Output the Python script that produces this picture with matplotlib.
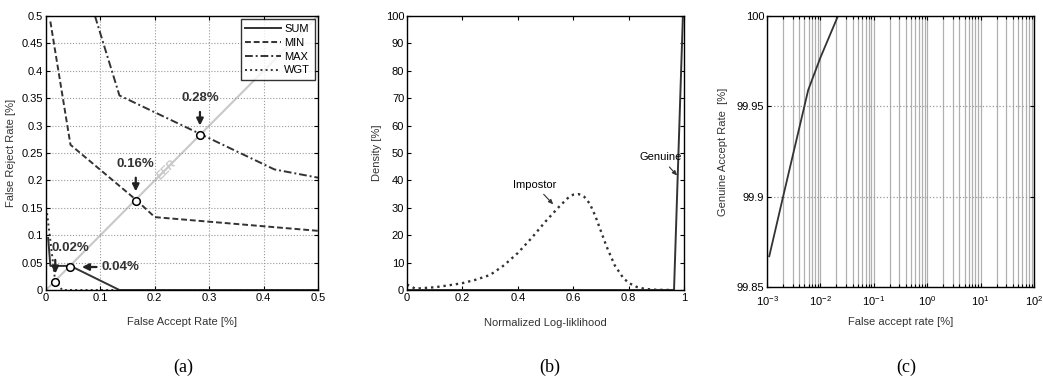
import numpy as np
import matplotlib
matplotlib.use("Agg")
import matplotlib.pyplot as plt
from matplotlib.ticker import FixedLocator, FormatStrFormatter, LogLocator, NullFormatter

plt.rcParams['font.family'] = ['Liberation Sans', 'DejaVu Sans']
plt.rcParams['font.size'] = 8

# (a) DET curves of the fusion rules, values in %
sum_far = [0.004, 0.008, 0.045, 0.135, 0.5]
sum_frr = [0.095, 0.044, 0.044, 0.0, 0.0]
min_far = [0.008, 0.045, 0.165, 0.2, 0.5]
min_frr = [0.49, 0.265, 0.165, 0.133, 0.108]
max_far = [0.09, 0.135, 0.283, 0.42, 0.5]
max_frr = [0.50, 0.355, 0.285, 0.22, 0.205]
wgt_far = [0.002, 0.017, 0.03, 0.5]
wgt_frr = [0.14, 0.015, 0.0, 0.0]
eer_x = [0.017, 0.044, 0.165, 0.283]
eer_y = [0.015, 0.042, 0.163, 0.283]
eer_labels = ['0.02%', '0.04%', '0.16%', '0.28%']

# (b) score densities
imp_x = [0, 0.03, 0.1, 0.15, 0.2, 0.25, 0.3, 0.35, 0.4, 0.45, 0.5, 0.55, 0.58, 0.6,
         0.62, 0.64, 0.66, 0.68, 0.7, 0.72, 0.75, 0.78, 0.8, 0.83, 0.85, 0.88, 0.9, 0.96]
imp_y = [2, 0.5, 1, 1.7, 2.5, 3.8, 5.5, 9, 13.5, 19, 25, 30.5, 33.5, 34.8,
         35, 34, 31.5, 27, 21.5, 16, 9, 4.5, 2.6, 1.1, 0.6, 0.2, 0.1, 0]
gen_x = [0, 0.964, 0.996]
gen_y = [0, 0, 100]

# (c) ROC of the fused system
roc_far = [0.0011, 0.002, 0.0059, 0.01, 0.0213, 100]
roc_gar = [99.867, 99.9, 99.959, 99.977, 100, 100]

line_c = '#333333'
fig = plt.figure(figsize=(10.43, 3.82), dpi=100)


def matlab_axes(ax):
    ax.tick_params(direction='in', top=True, right=True, length=3, width=0.8, pad=2,
                   which='both')
    for s in ax.spines.values():
        s.set_linewidth(1.0)


# ---------- (a)
ax = fig.add_axes([0.0441, 0.2408, 0.2608, 0.7173])
ax.plot([0, 0.5], [0, 0.5], color='#c8c8c8', lw=1.5, zorder=1)
ax.text(0.222, 0.219, 'EER', color='#c8c8c8', fontsize=8, fontweight='bold',
        fontstyle='italic', rotation=45, ha='center', va='center')
ax.plot(sum_far, sum_frr, '-', color=line_c, lw=1.4, label='SUM')
ax.plot(min_far, min_frr, '--', color=line_c, lw=1.4, label='MIN', dashes=(3, 1.5))
ax.plot(max_far, max_frr, '-.', color=line_c, lw=1.4, label='MAX', dashes=(4, 1.5, 1, 1.5))
ax.plot(wgt_far, wgt_frr, ':', color=line_c, lw=1.4, label='WGT')
ax.plot(eer_x, eer_y, 'o', ms=5.5, mfc='white', mec='black', mew=1.1, zorder=5)
arrow = dict(arrowstyle='-|>,head_width=0.25,head_length=0.5', color='#222222', lw=1.6)
fs = 9.5
ax.annotate('', xy=(eer_x[0], eer_y[0] + 0.01), xytext=(eer_x[0], 0.06), arrowprops=arrow)
ax.text(0.045, 0.077, eer_labels[0], fontsize=fs, fontweight='bold', color='#333333',
        ha='center', va='center')
ax.annotate('', xy=(eer_x[1] + 0.017, eer_y[1]), xytext=(0.098, eer_y[1]), arrowprops=arrow)
ax.text(0.102, eer_y[1], eer_labels[1], fontsize=fs, fontweight='bold', color='#333333',
        ha='left', va='center')
ax.annotate('', xy=(eer_x[2], eer_y[2] + 0.012), xytext=(eer_x[2], 0.21), arrowprops=arrow)
ax.text(eer_x[2], 0.23, eer_labels[2], fontsize=fs, fontweight='bold', color='#333333',
        ha='center', va='center')
ax.annotate('', xy=(eer_x[3], eer_y[3] + 0.012), xytext=(eer_x[3], 0.33), arrowprops=arrow)
ax.text(eer_x[3], 0.35, eer_labels[3], fontsize=fs, fontweight='bold', color='#333333',
        ha='center', va='center')
ax.set_xlim(0, 0.5)
ax.set_ylim(0, 0.5)
ax.set_xticks(np.arange(0, 0.51, 0.1))
ax.set_yticks(np.arange(0, 0.51, 0.05))
ax.xaxis.set_major_formatter(FormatStrFormatter('%g'))
ax.yaxis.set_major_formatter(FormatStrFormatter('%g'))
ax.grid(True, linestyle=':', color='#999999', lw=0.8)
ax.set_xlabel('False Accept Rate [%]', labelpad=10, color='#333333')
ax.set_ylabel('False Reject Rate [%]', labelpad=4, color='#333333')
matlab_axes(ax)
leg = ax.legend(loc='upper right', fontsize=8, frameon=True, fancybox=False,
                edgecolor='black', handlelength=3.2, handletextpad=0.3,
                borderpad=0.4, labelspacing=0.35, borderaxespad=0.3)
leg.get_frame().set_linewidth(1.0)

# ---------- (b)
ax = fig.add_axes([0.3902, 0.2408, 0.2656, 0.7173])
ax.plot(imp_x, imp_y, ':', color=line_c, lw=1.7)
ax.plot(gen_x, gen_y, '-', color=line_c, lw=1.4)
small_arrow = dict(arrowstyle='-|>,head_width=0.15,head_length=0.35', color='#333333', lw=0.8)
ax.annotate('Impostor', xy=(0.535, 30.5), xytext=(0.46, 38.5), fontsize=8,
            ha='center', va='center', arrowprops=small_arrow)
ax.annotate('Genuine', xy=(0.982, 41), xytext=(0.915, 48.5), fontsize=8,
            ha='center', va='center', arrowprops=small_arrow)
ax.set_xlim(0, 1)
ax.set_ylim(0, 100)
ax.set_xticks(np.arange(0, 1.01, 0.2))
ax.set_yticks(np.arange(0, 101, 10))
ax.xaxis.set_major_formatter(FormatStrFormatter('%g'))
ax.set_xlabel('Normalized Log-liklihood', labelpad=11, color='#333333')
ax.set_ylabel('Density [%]', labelpad=3, color='#333333')
matlab_axes(ax)

# ---------- (c)
ax = fig.add_axes([0.7354, 0.2487, 0.256, 0.7094])
ax.semilogx(roc_far, roc_gar, '-', color=line_c, lw=1.3)
ax.set_xlim(1e-3, 1e2)
ax.set_ylim(99.85, 100)
ax.xaxis.set_major_locator(LogLocator(base=10, numticks=10))
ax.xaxis.set_minor_locator(LogLocator(base=10, subs=np.arange(2, 10), numticks=20))
ax.xaxis.set_minor_formatter(NullFormatter())
ax.yaxis.set_major_locator(FixedLocator([99.85, 99.9, 99.95, 100]))
ax.yaxis.set_major_formatter(FormatStrFormatter('%g'))
ax.grid(True, which='both', axis='x', linestyle='-', color='#b0b0b0', lw=0.9)
ax.grid(True, which='major', axis='y', linestyle=':', color='#999999', lw=0.9)
ax.set_xlabel('False accept rate [%]', labelpad=7, color='#333333')
ax.set_ylabel('Genuine Accept Rate  [%]', labelpad=6, color='#333333')
matlab_axes(ax)
ax.tick_params(axis='x', which='major', pad=5)
ax.tick_params(which='minor', length=2)

# panel captions
for xc, lab in [(183, '(a)'), (550, '(b)'), (906, '(c)')]:
    fig.text(xc / 1043, 1 - 367 / 382, lab, family=['Liberation Serif', 'DejaVu Serif'],
             fontsize=13, ha='center', va='center')

fig.savefig('out.png', dpi=100)
